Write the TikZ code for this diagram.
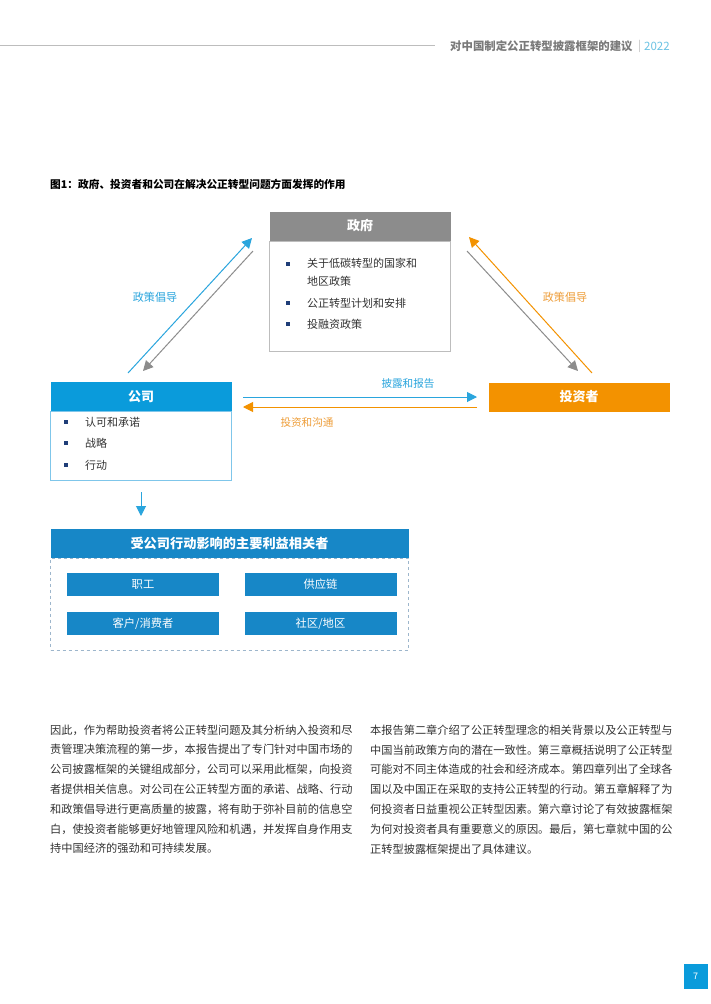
\documentclass[tikz,border=0pt]{standalone}
\usepackage{fontspec}
\setmainfont{Noto Sans CJK SC}
\usetikzlibrary{arrows.meta,positioning}

\definecolor{coblue}{HTML}{0A9BDB}
\definecolor{coline}{HTML}{7FC6EA}
\definecolor{stblue}{HTML}{1787C7}
\definecolor{invorange}{HTML}{F39200}
\definecolor{laborange}{HTML}{EE9E3A}
\definecolor{labblue}{HTML}{2AA5DD}
\definecolor{govgray}{HTML}{8C8C8C}
\definecolor{govline}{HTML}{BDBDBD}
\definecolor{headgray}{HTML}{7A7A7A}
\definecolor{yearblue}{HTML}{6CC3E4}
\definecolor{bulletblue}{HTML}{1F3E78}
\definecolor{textgray}{HTML}{333333}
\definecolor{dashblue}{HTML}{9DB6CC}

\tikzset{
 headbox/.style={fill=#1, text=white, font=\bfseries\fontsize{13}{15}\selectfont,
   inner sep=0pt, minimum width=181pt, minimum height=29pt},
 itemtext/.style={anchor=west, inner sep=0pt, text=textgray, font=\fontsize{11}{17.5}\selectfont},
 bul/.style={fill=bulletblue, minimum size=3.6pt, inner sep=0pt},
 flow/.style={-{Triangle[length=10pt,width=10pt]}, line width=1pt},
 lab/.style={inner sep=0pt, font=\fontsize{11.1}{13}\selectfont},
 sbox/.style={fill=stblue, text=white, inner sep=0pt, minimum width=152pt,
   minimum height=23pt, font=\fontsize{11.3}{13}\selectfont},
 para/.style={anchor=north west, inner sep=0pt, align=left, text=textgray,
   font=\fontsize{11.2}{19.8}\selectfont}
}

\begin{document}
\begin{tikzpicture}[x=1pt,y=-1pt]
 \fill[white] (0,0) rectangle (710,1004);
 \useasboundingbox (0,0) rectangle (710,1004);

 % running head
 \coordinate (hl) at (0,45);
 \coordinate (hr) at (435,45);
 \draw[govline, line width=0.8pt] (hl) -- (hr);
 \node[anchor=west, inner sep=0pt, font=\bfseries\fontsize{11.4}{13}\selectfont, text=headgray] (runhead) at (450,46)
   {对中国制定公正转型披露框架的建议};
 \node[anchor=west, inner sep=0pt, font=\fontsize{11}{13}\selectfont, text=govline] (runbar) at (638,46) {|};
 \node[anchor=west, inner sep=0pt, font=\fontsize{11.5}{13}\selectfont, text=yearblue] (runyear) at (644,46) {2022};

 % figure title
 \node[anchor=west, inner sep=0pt, font=\bfseries\fontsize{10.7}{13}\selectfont] (figtitle) at (50,184)
   {图1：政府、投资者和公司在解决公正转型问题方面发挥的作用};

 % government
 \node[headbox=govgray] (govhead) at (360,226) {政府};
 \node[draw=govline, anchor=north, minimum width=181pt, minimum height=110pt, inner sep=0pt] (govbody) at (govhead.south) {};
 \node[bul] (gb1) at (288,264) {};
 \node[bul] (gb2) at (288,303) {};
 \node[bul] (gb3) at (288,324) {};
 \node[itemtext, anchor=north west, align=left] (gt1) at (307,258) {关于低碳转型的国家和\\地区政策};
 \node[itemtext] (gt2) at (307,303) {公正转型计划和安排};
 \node[itemtext] (gt3) at (307,324) {投融资政策};

 % company
 \node[headbox=coblue] (cohead) at (141,396.5) {公司};
 \node[draw=coline, anchor=north, minimum width=181pt, minimum height=69pt, inner sep=0pt] (cobody) at (cohead.south) {};
 \node[bul] (cb1) at (66,422) {};
 \node[bul] (cb2) at (66,443) {};
 \node[bul] (cb3) at (66,465) {};
 \node[itemtext] (ct1) at (85,422) {认可和承诺};
 \node[itemtext] (ct2) at (85,443) {战略};
 \node[itemtext] (ct3) at (85,465) {行动};

 % investors
 \node[headbox=invorange] (inv) at (579,397) {投资者};

 % connectors
 \coordinate (cg1) at (128,373);
 \coordinate (cg2) at (252,238);
 \coordinate (gc1) at (253,251);
 \coordinate (gc2) at (143,371);
 \draw[flow, labblue] (cg1) -- (cg2);
 \draw[flow, govgray] (gc1) -- (gc2);
 \node[lab, text=labblue] (adv1) at (155,297) {政策倡导};

 \coordinate (ig1) at (592,373);
 \coordinate (ig2) at (469,237);
 \coordinate (gi1) at (467,251);
 \coordinate (gi2) at (578,371);
 \draw[flow, invorange] (ig1) -- (ig2);
 \draw[flow, govgray] (gi1) -- (gi2);
 \node[lab, text=laborange] (adv2) at (565,297) {政策倡导};

 \coordinate (ci1) at (243,397);
 \coordinate (ci2) at (477,397);
 \coordinate (ic1) at (477,407);
 \coordinate (ic2) at (243,407);
 \draw[flow, labblue] (ci1) -- (ci2);
 \draw[flow, invorange] (ic1) -- (ic2);
 \node[lab, text=labblue, font=\fontsize{10.6}{13}\selectfont] (disc) at (408,384) {披露和报告};
 \node[lab, text=laborange, font=\fontsize{10.6}{13}\selectfont] (comm) at (307,422) {投资和沟通};

 \coordinate (down1) at (141,492);
 \coordinate (down2) at (141,516);
 \draw[flow, labblue] (down1) -- (down2);

 % stakeholders
 \node[headbox=stblue, minimum width=358pt, font=\bfseries\fontsize{13.2}{15}\selectfont] (sthead) at (229.5,543) {受公司行动影响的主要利益相关者};
 \node[draw=dashblue, dashed, anchor=north, minimum width=358pt, minimum height=92pt, inner sep=0pt] (stbody) at (sthead.south) {};
 \node[sbox] (staff) at (143,584) {职工};
 \node[sbox] (supply) at (320.5,584) {供应链};
 \node[sbox] (client) at (143,623.5) {客户/消费者};
 \node[sbox] (region) at (320.5,623.5) {社区/地区};

 % body text
 \node[para] (leftcol) at (50,724.5) {因此，作为帮助投资者将公正转型问题及其分析纳入投资和尽\\
 责管理决策流程的第一步，本报告提出了专门针对中国市场的\\
 公司披露框架的关键组成部分，公司可以采用此框架，向投资\\
 者提供相关信息。对公司在公正转型方面的承诺、战略、行动\\
 和政策倡导进行更高质量的披露，将有助于弥补目前的信息空\\
 白，使投资者能够更好地管理风险和机遇，并发挥自身作用支\\
 持中国经济的强劲和可持续发展。};
 \node[para] (rightcol) at (370,724.5) {本报告第二章介绍了公正转型理念的相关背景以及公正转型与\\
 中国当前政策方向的潜在一致性。第三章概括说明了公正转型\\
 可能对不同主体造成的社会和经济成本。第四章列出了全球各\\
 国以及中国正在采取的支持公正转型的行动。第五章解释了为\\
 何投资者日益重视公正转型因素。第六章讨论了有效披露框架\\
 为何对投资者具有重要意义的原因。最后，第七章就中国的公\\
 正转型披露框架提出了具体建议。};

 % page number
 \node[fill=coblue, text=white, minimum width=24pt, minimum height=25pt, inner sep=0pt,
   font=\fontsize{9}{11}\selectfont] (pagenum) at (695.5,976.5) {7};
\end{tikzpicture}
\end{document}
